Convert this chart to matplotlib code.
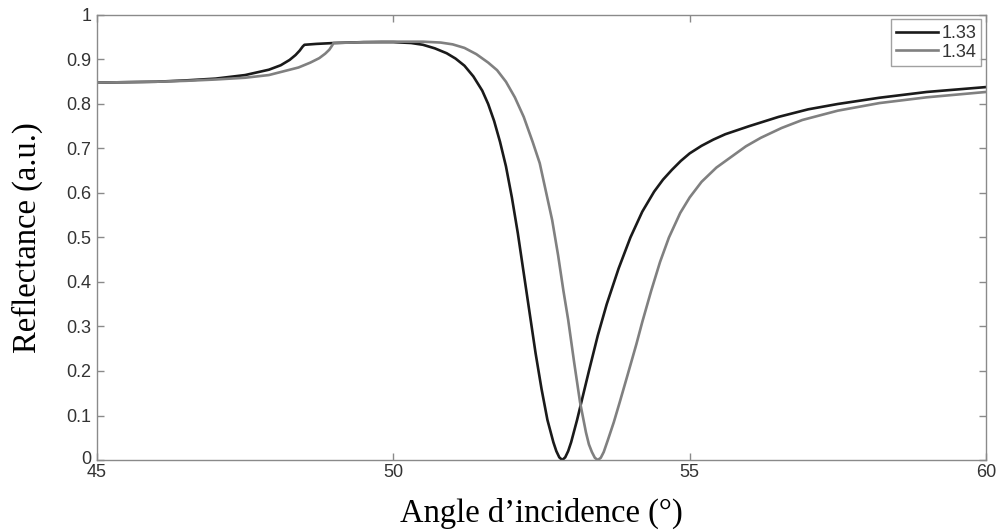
import matplotlib
matplotlib.use("Agg")
import matplotlib.pyplot as plt
from matplotlib.transforms import ScaledTranslation

# Data
angle_133 = [45.0, 45.5, 46.0, 46.5, 47.0, 47.5, 47.9, 48.1, 48.25, 48.35, 48.42, 48.47, 48.5,
             48.7, 49.0, 49.5, 50.0, 50.3, 50.5, 50.7, 50.9, 51.05, 51.2, 51.35, 51.5,
             51.6, 51.7, 51.8, 51.9, 52.0, 52.1, 52.2, 52.3, 52.4, 52.5, 52.6, 52.7,
             52.75, 52.8, 52.85, 52.9, 52.95, 53.0, 53.1, 53.2, 53.3, 53.45, 53.6, 53.8,
             54.0, 54.2, 54.4, 54.55, 54.7, 54.85, 55.0, 55.2, 55.4, 55.6, 56.0, 56.5,
             57.0, 57.5, 58.2, 59.0, 60.0]
refl_133 = [0.848, 0.849, 0.850, 0.853, 0.857, 0.865, 0.877, 0.887, 0.899, 0.910, 0.920, 0.929, 0.933,
            0.935, 0.937, 0.939, 0.939, 0.937, 0.933, 0.925, 0.914, 0.902, 0.886, 0.862, 0.830,
            0.800, 0.762, 0.715, 0.660, 0.590, 0.510, 0.420, 0.330, 0.240, 0.160, 0.090, 0.040,
            0.020, 0.006, 0.000, 0.006, 0.020, 0.040, 0.090, 0.145, 0.200, 0.280, 0.350, 0.430,
            0.500, 0.558, 0.603, 0.630, 0.652, 0.672, 0.689, 0.706, 0.720, 0.732, 0.750, 0.771,
            0.788, 0.800, 0.814, 0.827, 0.838]

angle_134 = [45.0, 45.5, 46.0, 46.5, 47.0, 47.5, 47.9, 48.4, 48.6, 48.75, 48.85, 48.92, 48.97, 48.99,
             49.3, 49.8, 50.5, 50.8, 51.0, 51.2, 51.4, 51.6, 51.75, 51.9, 52.05, 52.2, 52.35,
             52.47, 52.58, 52.68, 52.78, 52.87, 52.95, 53.05, 53.15, 53.25, 53.3, 53.35, 53.4,
             53.45, 53.5, 53.55, 53.62, 53.72, 53.82, 53.95, 54.1, 54.2, 54.35, 54.5, 54.65,
             54.84, 55.0, 55.2, 55.45, 55.7, 55.95, 56.2, 56.55, 56.9, 57.5, 58.2, 59.0, 60.0]
refl_134 = [0.848, 0.849, 0.850, 0.852, 0.855, 0.859, 0.865, 0.882, 0.893, 0.903, 0.913, 0.922, 0.932, 0.937,
            0.938, 0.940, 0.940, 0.938, 0.934, 0.926, 0.912, 0.893, 0.876, 0.850, 0.815, 0.771, 0.715,
            0.667, 0.600, 0.539, 0.460, 0.380, 0.315, 0.220, 0.130, 0.062, 0.035, 0.018, 0.005,
            0.000, 0.005, 0.018, 0.045, 0.085, 0.130, 0.190, 0.260, 0.310, 0.380, 0.445, 0.500,
            0.555, 0.590, 0.625, 0.657, 0.681, 0.705, 0.724, 0.746, 0.764, 0.785, 0.802, 0.815, 0.827]

labels = ["1.33", "1.34"]
xticks = [45, 50, 55, 60]
yticks = [0, 0.1, 0.2, 0.3, 0.4, 0.5, 0.6, 0.7, 0.8, 0.9, 1]
ytick_labels = ["0", "0.1", "0.2", "0.3", "0.4", "0.5", "0.6", "0.7", "0.8", "0.9", "1"]

fig = plt.figure(figsize=(9.99, 5.31), dpi=100)
ax = fig.add_axes([0.0971, 0.1337, 0.8899, 0.8381])

ax.plot(angle_133, refl_133, color="#1a1a1a", lw=1.9, label=labels[0], solid_joinstyle="round")
ax.plot(angle_134, refl_134, color="#808080", lw=1.9, label=labels[1], solid_joinstyle="round")

ax.set_xlim(45, 60)
ax.set_ylim(0, 1)
ax.set_xticks(xticks)
ax.set_xticklabels([str(t) for t in xticks])
ax.set_yticks(yticks)
ax.set_yticklabels(ytick_labels)

for s in ax.spines.values():
    s.set_color("#8a8a8a")
    s.set_linewidth(1.0)
ax.tick_params(direction="in", top=True, right=True, length=5, width=1.0,
               color="#8a8a8a", labelcolor="#333333", labelsize=13)
ax.tick_params(axis="x", pad=3)
ax.tick_params(axis="y", pad=4)
for lab in ax.get_xticklabels() + ax.get_yticklabels():
    lab.set_family(["Liberation Sans", "DejaVu Sans"])
# nudge the "0" label slightly up so it doesn't collide with "45"
zero_lab = ax.get_yticklabels()[0]
zero_lab.set_transform(zero_lab.get_transform() + ScaledTranslation(0, 3 / 100, fig.dpi_scale_trans))

ax.set_xlabel("Angle d’incidence (°)", family=["Liberation Serif", "DejaVu Serif"],
              fontsize=23.5, labelpad=12)
ax.set_ylabel("Reflectance (a.u.)", family=["Liberation Serif", "DejaVu Serif"],
              fontsize=23.5, labelpad=17)

leg = ax.legend(loc="upper right", frameon=True, fancybox=False,
                handlelength=2.3, handletextpad=0.2, borderpad=0.3, labelspacing=0.1,
                borderaxespad=0.25, prop={"family": ["Liberation Sans", "DejaVu Sans"], "size": 13})
leg.get_frame().set_edgecolor("#8a8a8a")
leg.get_frame().set_linewidth(1.0)
for t in leg.get_texts():
    t.set_color("#333333")

fig.savefig("out.png", dpi=100, facecolor="white")
